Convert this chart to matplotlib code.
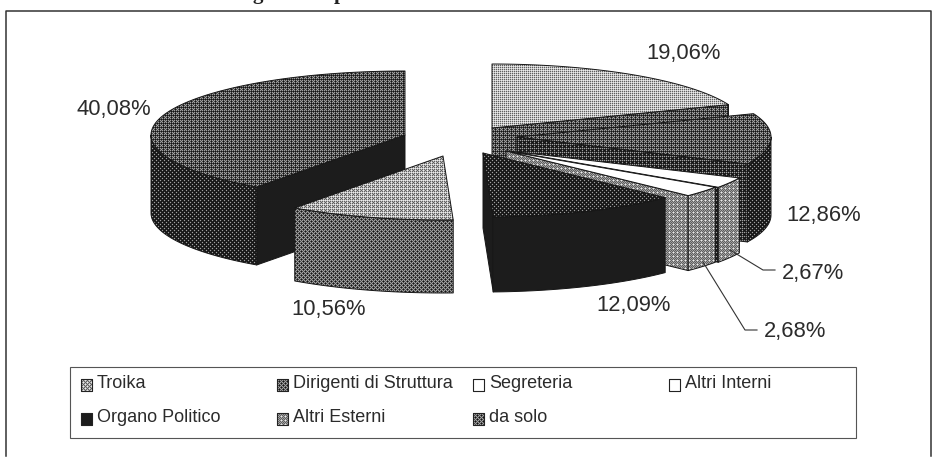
import numpy as np
import matplotlib
matplotlib.use("Agg")
import matplotlib.pyplot as plt
from matplotlib.patches import Polygon, Rectangle

plt.rcParams['font.family'] = ['Liberation Sans', 'DejaVu Sans']

categories = ["Troika", "Dirigenti di Struttura", "Segreteria", "Altri Interni",
              "Organo Politico", "Altri Esterni", "da solo"]
shares = [19.06, 12.86, 2.67, 2.68, 12.09, 10.56, 40.08]
share_labels = ["19,06%", "12,86%", "2,67%", "2,68%", "12,09%", "10,56%", "40,08%"]

W, H = 936, 457
RX, RY = 254, 64

# pie layout: where each pulled-out slice has its apex, and how thick it is
APEX = [(492, 128), (517, 137), (509, 151), (506, 151), (483, 153), (443, 156), (405, 135)]
DEPTH = [78, 78, 75, 75, 75, 73, 78]
LABEL_XY = [(684, 54), (824, 216), (813, 273), (795, 332), (634, 305), (329, 310), (114, 110)]

# grey level of top / rim / cut faces (0 black, 1 white)
TOP = [0.72, 0.30, 1.0, 1.0, 0.13, 0.68, 0.32]
RIM = [0.32, 0.14, 0.55, 0.55, 0.10, 0.36, 0.12]
CUT = [0.30, 0.16, 0.12, 0.55, 0.10, 0.36, 0.08]
SWATCH = [0.62, 0.36, 1.0, 1.0, 0.08, 0.55, 0.36]

BAYER = np.array([[0, 8, 2, 10], [12, 4, 14, 6], [3, 11, 1, 9], [15, 7, 13, 5]]) / 16 + 1 / 32
yy, xx = np.mgrid[0:H, 0:W]
THRESH = BAYER[yy % 4, xx % 4]

fig = plt.figure(figsize=(W / 100, H / 100), dpi=100)
ax = fig.add_axes([0, 0, 1, 1])
ax.set_axis_off()


def shade(pts, level, z, edge="#161616", lw=0.7):
    """Fill a polygon with a slightly soft ordered halftone of the given grey level."""
    poly = Polygon(pts, closed=True, transform=ax.transData, facecolor="none",
                   edgecolor=edge, linewidth=lw, zorder=z + 0.1, joinstyle="round")
    ax.add_patch(poly)
    if level >= 0.99:
        poly.set_facecolor("white")
        return
    if level <= 0.1:
        poly.set_facecolor("#1c1c1c")
        return
    tex = np.where(THRESH < level, 0.92, 0.08)
    soft = sum(np.roll(tex, s, axis=a) for s in (-1, 1) for a in (0, 1)) / 4
    tex = 0.65 * tex + 0.35 * soft
    im = ax.imshow(tex, cmap="gray", vmin=0, vmax=1, extent=(0, W, H, 0),
                   interpolation="nearest", aspect="auto", zorder=z)
    im.set_clip_path(poly)


def rim_point(apex, theta):
    return apex[0] + RX * np.sin(theta), apex[1] - RY * np.cos(theta)


def draw_slice(i, start, end, z):
    apex, depth = APEX[i], DEPTH[i]
    th = np.linspace(start, end, 80)
    px, py = rim_point(apex, th)
    top = np.column_stack([np.r_[apex[0], px], np.r_[apex[1], py]])

    # radial cut faces, only those turned towards the viewer
    for a, visible in ((start, np.sin(start) < 0), (end, np.sin(end) > 0)):
        if visible:
            ex, ey = rim_point(apex, a)
            shade([(apex[0], apex[1]), (ex, ey), (ex, ey + depth), (apex[0], apex[1] + depth)],
                  CUT[i], z)

    # curved outer wall, front half of the ellipse only
    lo, hi = max(start, np.pi / 2), min(end, 3 * np.pi / 2)
    if hi > lo:
        tw = np.linspace(lo, hi, 60)
        wx, wy = rim_point(apex, tw)
        wall = np.r_[np.column_stack([wx, wy]), np.column_stack([wx, wy + depth])[::-1]]
        shade(wall, RIM[i], z + 1)

    shade(top, TOP[i], z + 2)


edges = np.r_[0, np.cumsum(shares)] / sum(shares) * 2 * np.pi

# painted back to front so nearer slices cover the farther ones
z = 2
for i in [6, 0, 1, 2, 3, 4, 5]:
    draw_slice(i, edges[i], edges[i + 1], z)
    z += 3

for label, (lx, ly) in zip(share_labels, LABEL_XY):
    ax.text(lx, ly, label, ha="center", va="center", fontsize=15.8, color="#2b2b2b", zorder=60)

# leader lines of the two thin slices
ax.plot([730, 763, 775], [250, 270, 270], color="#333333", lw=0.8, zorder=60)
ax.plot([703, 745, 757], [262, 330, 330], color="#333333", lw=0.8, zorder=60)

# outer frame, open at the bottom
ax.plot([6, 6, 931, 931], [456, 11, 11, 456], color="#333333", lw=1.1, zorder=1)

# descenders of the heading line, which runs off the top edge
for hx, ch in ((258, "g"), (340, "p")):
    ax.text(hx, -1, ch, ha="center", va="baseline", fontsize=15, fontweight="bold",
            family="Liberation Serif", color="#222222", clip_on=False, zorder=60)

# legend
ax.add_patch(Rectangle((69.5, 366.5), 786, 71, facecolor="white", edgecolor="#555555",
                       lw=0.8, zorder=61))
LEG_X = [81, 277, 473, 669, 81, 277, 473]
LEG_Y = [385, 385, 385, 385, 419, 419, 419]
for i, name in enumerate(categories):
    sx, sy = LEG_X[i], LEG_Y[i]
    shade([(sx, sy - 6), (sx + 11, sy - 6), (sx + 11, sy + 6), (sx, sy + 6)], SWATCH[i], 62,
          edge="#222222", lw=0.8)
    ax.text(sx + 16, sy - 1, name, ha="left", va="center", fontsize=13, color="#2b2b2b", zorder=65)

ax.set_xlim(0, W)
ax.set_ylim(H, 0)
fig.savefig("out.png", dpi=100, facecolor="white")
